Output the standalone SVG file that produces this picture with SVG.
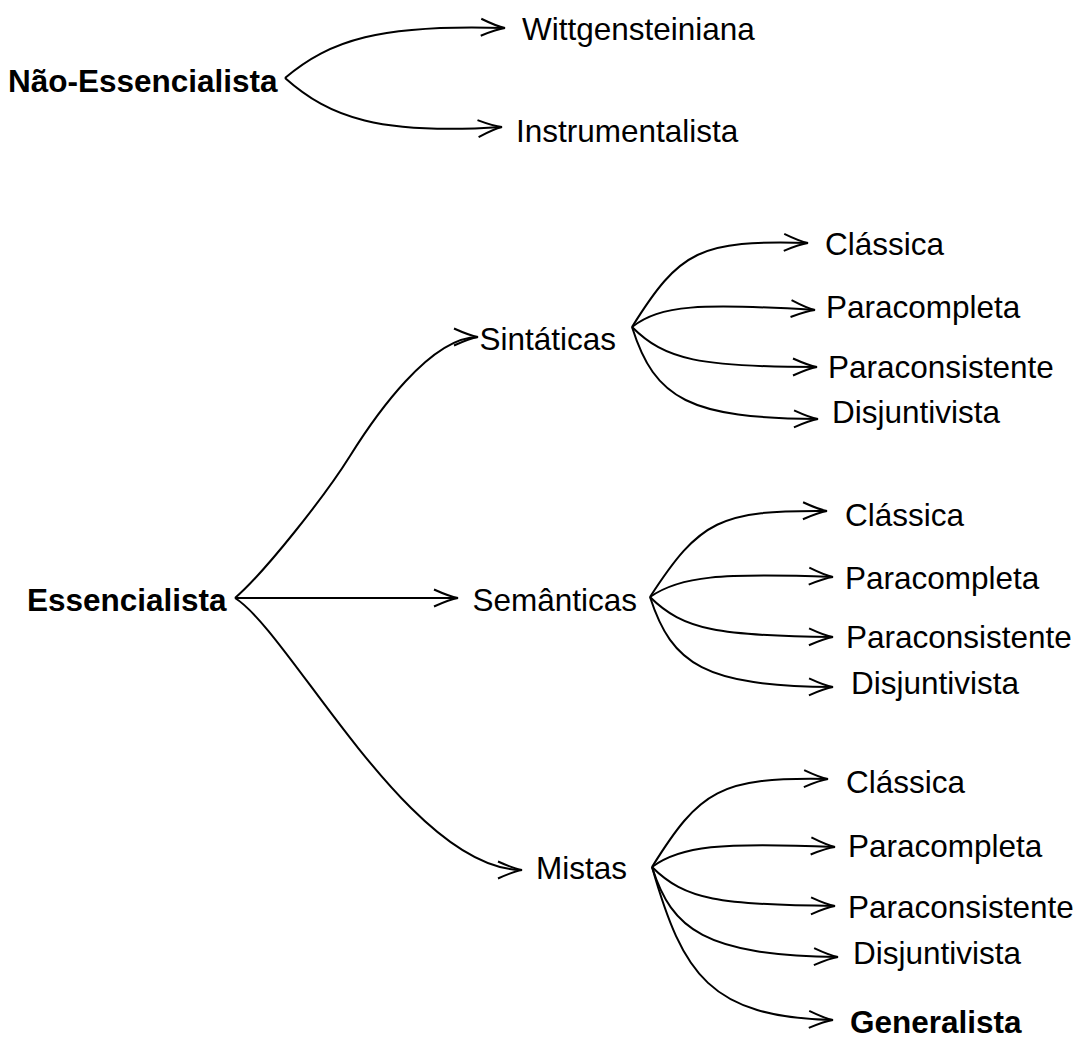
<svg xmlns="http://www.w3.org/2000/svg" width="1076" height="1037" viewBox="0 0 1076 1037">
<style>
.t{font-family:"Liberation Sans",Arial,Helvetica,sans-serif;font-size:31.5px;fill:#000}
.b{font-weight:bold}
.c{fill:none;stroke:#000;stroke-width:2;marker-end:url(#ah)}
</style>
<defs>
<marker id="ah" markerUnits="userSpaceOnUse" markerWidth="32" markerHeight="24" viewBox="-28 -12 32 24" refX="0" refY="0" orient="auto" overflow="visible">
<path d="M-24,-8.5 C-14,-4 -6,-1 0,0 C-6,1 -14,4 -24,8.5" fill="none" stroke="#000" stroke-width="2"/>
</marker>
</defs>
<rect width="1076" height="1037" fill="#fff"/>
<g id="connectors">
<path class="c" d="M285,78 C330,40 380,24 505,28"/>
<path class="c" d="M285,78 C330,118 380,135 502,127"/>
<path class="c" d="M235,598 C265,572 325,496 350,456 C375,416 430,337 478,337"/>
<path class="c" d="M235,598 L458,598"/>
<path class="c" d="M235,598 C290,632 410,870 522,870"/>
<path class="c" d="M632,327 C680,250 700,240 808,243"/>
<path class="c" d="M632,327 C660,305 700,303 815,310"/>
<path class="c" d="M632,327 C665,360 700,367 817,367"/>
<path class="c" d="M632,327 C655,400 690,418 818,419"/>
<path class="c" d="M650,597 C700,520 720,510 827,511"/>
<path class="c" d="M650,597 C680,576 720,573 833,577"/>
<path class="c" d="M650,597 C683,630 720,636 833,637"/>
<path class="c" d="M650,597 C672,665 705,686 833,687"/>
<path class="c" d="M652,867 C700,790 720,777 828,779"/>
<path class="c" d="M652,867 C680,846 720,842 835,847"/>
<path class="c" d="M652,867 C685,900 720,905 835,906"/>
<path class="c" d="M652,867 C672,930 705,955 838,957"/>
<path class="c" d="M652,867 C683,975 710,1017 833,1020"/>
</g>
<g id="nao-essencialista"><text class="t b" x="8" y="92">Não-Essencialista</text></g>
<g id="wittgensteiniana"><text class="t" x="522" y="40">Wittgensteiniana</text></g>
<g id="instrumentalista"><text class="t" x="516" y="142">Instrumentalista</text></g>
<g id="essencialista"><text class="t b" x="27" y="611">Essencialista</text></g>
<g id="sintaticas"><text class="t" x="479.5" y="350">Sintáticas</text></g>
<g id="semanticas"><text class="t" x="472.5" y="611">Semânticas</text></g>
<g id="mistas"><text class="t" x="536" y="879">Mistas</text></g>
<g id="sin-classica"><text class="t" x="825" y="255">Clássica</text></g>
<g id="sin-paracompleta"><text class="t" x="826" y="318">Paracompleta</text></g>
<g id="sin-paraconsistente"><text class="t" x="828" y="378">Paraconsistente</text></g>
<g id="sin-disjuntivista"><text class="t" x="832" y="423">Disjuntivista</text></g>
<g id="sem-classica"><text class="t" x="845" y="526">Clássica</text></g>
<g id="sem-paracompleta"><text class="t" x="845" y="589">Paracompleta</text></g>
<g id="sem-paraconsistente"><text class="t" x="846" y="648">Paraconsistente</text></g>
<g id="sem-disjuntivista"><text class="t" x="851" y="694">Disjuntivista</text></g>
<g id="mis-classica"><text class="t" x="846" y="793">Clássica</text></g>
<g id="mis-paracompleta"><text class="t" x="848" y="857">Paracompleta</text></g>
<g id="mis-paraconsistente"><text class="t" x="848" y="918">Paraconsistente</text></g>
<g id="mis-disjuntivista"><text class="t" x="853" y="964">Disjuntivista</text></g>
<g id="mis-generalista"><text class="t b" x="850" y="1033">Generalista</text></g>
</svg>
